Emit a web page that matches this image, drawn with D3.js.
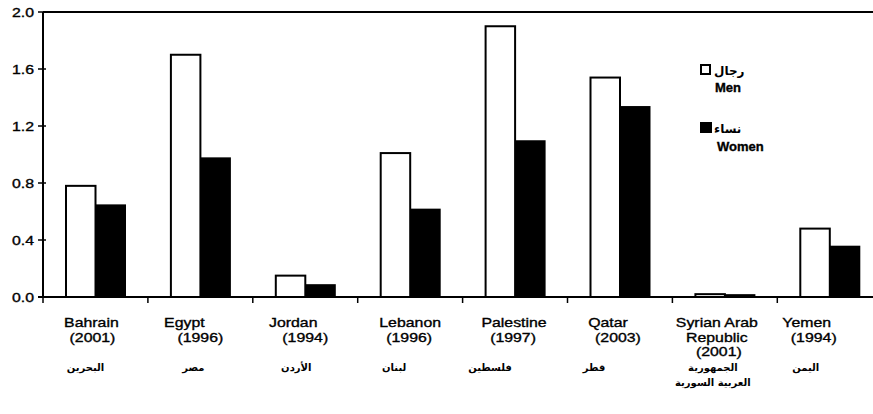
<!DOCTYPE html>
<html>
<head>
<meta charset="utf-8">
<script src="https://cdn.jsdelivr.net/npm/d3@7/dist/d3.min.js"></script>
<style>
  html, body { margin: 0; padding: 0; background: #fff; }
  svg { display: block; }
  .lat { font-family: "Liberation Sans", Arial, sans-serif; font-size: 13px; fill: #000; stroke: #000; stroke-width: 0.35px; }
  .ar { font-family: "DejaVu Sans", sans-serif; font-size: 10px; font-weight: bold; fill: #000; }
</style>
</head>
<body>
<svg id="chart" width="873" height="414"></svg>
<script>
// Country / survey-year categories
const categories = ["Bahrain", "Egypt", "Jordan", "Lebanon", "Palestine", "Qatar", "Syrian Arab Republic", "Yemen"];
const nameLines = [["Bahrain"], ["Egypt"], ["Jordan"], ["Lebanon"], ["Palestine"], ["Qatar"], ["Syrian Arab", "Republic"], ["Yemen"]];
const surveyYears = ["(2001)", "(1996)", "(1994)", "(1996)", "(1997)", "(2003)", "(2001)", "(1994)"];
const arabicNames = [["البحرين"], ["مصر"], ["الأردن"], ["لبنان"], ["فلسطين"], ["قطر"], ["الجمهورية", "العربية السورية"], ["اليمن"]];

// Series values
const menValues = [0.78, 1.70, 0.15, 1.01, 1.90, 1.54, 0.02, 0.48];
const womenValues = [0.65, 0.98, 0.09, 0.62, 1.10, 1.34, 0.02, 0.36];

// Y axis ticks
const yTickValues = [0.0, 0.4, 0.8, 1.2, 1.6, 2.0];
const yTickLabels = ["0.0", "0.4", "0.8", "1.2", "1.6", "2.0"];

// Legend entries
const legendAr = ["رجال", "نساء"];
const legendEn = ["Men", "Women"];

// ---- layout ----
const plotLeft = 43, plotTop = 12, plotBottom = 297, bandW = 104.9;
const SX = 1.22; // horizontal widening of the Latin type
// small horizontal nudges of the stacked label lines (name, year, arabic)
const nudgeName = [-4, -16, -12, 0, -1, -12, -8, -23];
const nudgeYear = [-3, 0, 0, -1, -2, -2, -6, -16];
const nudgeAr = [-10, -7, -9, -16, -25, -26, -12, -24];

const svg = d3.select("#chart");

const x = d3.scaleBand().domain(categories).range([plotLeft, plotLeft + bandW * categories.length]).padding(0);
const sub = d3.scaleBand().domain(["men", "women"]).range([22, 83]).padding(0);
const y = d3.scaleLinear().domain([0, 2]).range([plotBottom, plotTop]);

const rows = categories.map((c, i) => ({ c, i, men: menValues[i], women: womenValues[i] }));

// bars
const g = svg.append("g");
const grp = g.selectAll("g.cat").data(rows).join("g")
  .attr("class", "cat")
  .attr("transform", d => `translate(${x(d.c)},0)`);

grp.append("rect")
  .attr("x", sub("men") + 1)
  .attr("width", sub.bandwidth() - 1)
  .attr("y", d => y(d.men))
  .attr("height", d => y(0) - y(d.men))
  .attr("fill", "#fff")
  .attr("stroke", "#000")
  .attr("stroke-width", 2);

grp.append("rect")
  .attr("x", sub("women"))
  .attr("width", sub.bandwidth())
  .attr("y", d => y(d.women))
  .attr("height", d => y(0) - y(d.women))
  .attr("fill", "#000");

// frame: top border, y axis, x axis
svg.append("line").attr("x1", plotLeft).attr("x2", 873).attr("y1", plotTop).attr("y2", plotTop)
  .attr("stroke", "#000").attr("stroke-width", 2);

const yAxis = d3.axisLeft(y).tickValues(yTickValues).tickSize(0).tickFormat("");
svg.append("g").attr("transform", `translate(${plotLeft},0)`).call(yAxis)
  .call(s => s.select(".domain").attr("stroke-width", 2).attr("d", `M0,${plotTop}V${plotBottom}`));

// y ticks cross the axis line
svg.append("g").selectAll("line").data(yTickValues).join("line")
  .attr("x1", plotLeft - 5).attr("x2", plotLeft + 3)
  .attr("y1", d => y(d)).attr("y2", d => y(d))
  .attr("stroke", "#000").attr("stroke-width", 1.5);

svg.append("g").selectAll("text").data(yTickValues).join("text")
  .attr("class", "lat")
  .attr("text-anchor", "end")
  .attr("dy", "0.35em")
  .attr("transform", d => `translate(34,${y(d)}) scale(${SX},1)`)
  .text((d, i) => yTickLabels[i]);

// x axis baseline with ticks at the category boundaries
svg.append("line").attr("x1", plotLeft - 5).attr("x2", 873).attr("y1", plotBottom).attr("y2", plotBottom)
  .attr("stroke", "#000").attr("stroke-width", 2);
svg.append("g").selectAll("line").data(categories).join("line")
  .attr("x1", d => x(d)).attr("x2", d => x(d))
  .attr("y1", plotBottom).attr("y2", plotBottom + 6)
  .attr("stroke", "#000").attr("stroke-width", 1.5);

// category labels
const lab = svg.append("g").selectAll("g").data(rows).join("g")
  .attr("transform", d => `translate(${x(d.c) + x.bandwidth() / 2},0)`);

lab.each(function (d) {
  const s = d3.select(this);
  const names = nameLines[d.i];
  names.forEach((t, k) => {
    s.append("text").attr("class", "lat").attr("text-anchor", "middle")
      .attr("transform", `translate(${nudgeName[d.i]},${327 + k * 14.5}) scale(${SX},1)`)
      .text(t);
  });
  s.append("text").attr("class", "lat").attr("text-anchor", "middle")
    .attr("transform", `translate(${nudgeYear[d.i]},${327 + names.length * 14.5}) scale(${SX},1)`)
    .text(surveyYears[d.i]);
  arabicNames[d.i].forEach((t, k) => {
    s.append("text").attr("class", "ar").attr("text-anchor", "middle")
      .attr("direction", "rtl")
      .attr("x", nudgeAr[d.i]).attr("y", 371 + k * 14.5)
      .text(t);
  });
});

// legend
const leg = svg.append("g").attr("transform", "translate(700,0)");
leg.append("rect").attr("x", 1).attr("y", 65).attr("width", 9).attr("height", 9)
  .attr("fill", "#fff").attr("stroke", "#000").attr("stroke-width", 2);
leg.append("text").attr("class", "ar").attr("x", 14).attr("y", 75).style("font-size", "12px").text(legendAr[0]);
leg.append("text").attr("class", "lat").attr("x", 15).attr("y", 92).style("font-weight", "bold").text(legendEn[0]);
leg.append("rect").attr("x", 0).attr("y", 122).attr("width", 12).attr("height", 11).attr("fill", "#000");
leg.append("text").attr("class", "ar").attr("x", 14).attr("y", 133).style("font-size", "12px").text(legendAr[1]);
leg.append("text").attr("class", "lat").attr("x", 17).attr("y", 151).style("font-weight", "bold").text(legendEn[1]);
</script>
</body>
</html>
